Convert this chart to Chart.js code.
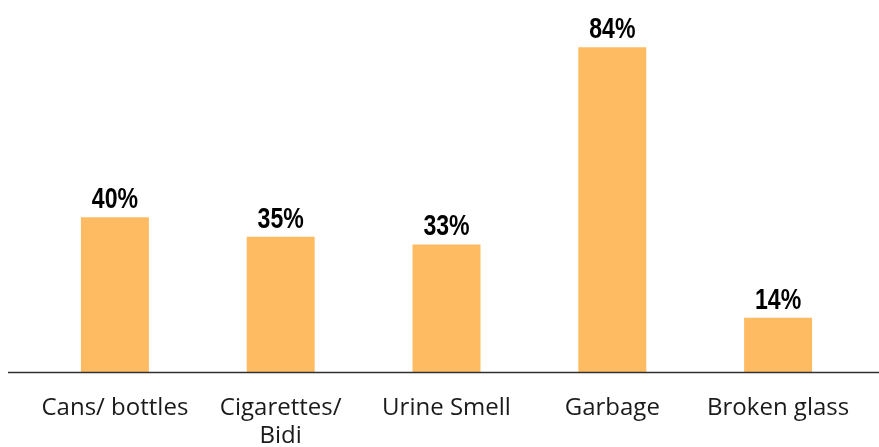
<!DOCTYPE html>
<html>
<head>
<meta charset="utf-8">
<script src="https://cdn.jsdelivr.net/npm/chart.js@4/dist/chart.umd.min.js"></script>
<style>
  html, body { margin: 0; padding: 0; background: #ffffff; }
  #wrap { width: 879px; height: 447px; position: relative; }
</style>
</head>
<body>
<div id="wrap"><canvas id="c"></canvas></div>
<script>
// Issues reported around the site (% of respondents)
const categories = ["Cans/ bottles", ["Cigarettes/", "Bidi"], "Urine Smell", "Garbage", "Broken glass"];
const shares = [40, 35, 33, 84, 14];

// Percent labels above each bar, in a condensed bold face
const valueLabels = {
  id: 'valueLabels',
  afterDatasetsDraw(chart) {
    const ctx = chart.ctx;
    const meta = chart.getDatasetMeta(0);
    const squeeze = 0.77;
    ctx.save();
    ctx.font = 'bold 30px "Liberation Sans", Arial, sans-serif';
    ctx.fillStyle = '#000000';
    ctx.textAlign = 'center';
    ctx.textBaseline = 'alphabetic';
    meta.data.forEach((bar, i) => {
      ctx.save();
      ctx.translate(bar.x, bar.y - 9);
      ctx.scale(squeeze, 1);
      ctx.fillText(shares[i] + '%', 0, 0);
      ctx.restore();
    });
    ctx.restore();
  }
};

// Baseline running across the full width
const baseLine = {
  id: 'baseLine',
  afterDatasetsDraw(chart) {
    const ctx = chart.ctx;
    const y = Math.round(chart.scales.y.getPixelForValue(0)) + 0.5;
    ctx.save();
    ctx.strokeStyle = '#303030';
    ctx.lineWidth = 1.5;
    ctx.beginPath();
    ctx.moveTo(8, y);
    ctx.lineTo(chart.width, y);
    ctx.stroke();
    ctx.restore();
  }
};

new Chart(document.getElementById('c'), {
  type: 'bar',
  data: {
    labels: categories,
    datasets: [{
      data: shares,
      backgroundColor: '#FFBB62',
      borderWidth: 0,
      categoryPercentage: 1,
      barPercentage: 0.41
    }]
  },
  options: {
    responsive: true,
    maintainAspectRatio: false,
    animation: false,
    layout: { padding: { left: 32, right: 18, top: 0, bottom: 0 } },
    plugins: { legend: { display: false }, tooltip: { enabled: false } },
    scales: {
      x: {
        grid: { display: false },
        border: { display: false },
        afterFit(scale) { scale.height = 75; },
        ticks: {
          color: '#1a1a1a',
          padding: 14,
          maxRotation: 0,
          autoSkip: false,
          font: { family: '"Open Sans", "Noto Sans", sans-serif', size: 24, lineHeight: 1.167 }
        }
      },
      y: {
        display: false,
        min: 0,
        max: 96.2
      }
    }
  },
  plugins: [valueLabels, baseLine]
});
</script>
</body>
</html>
